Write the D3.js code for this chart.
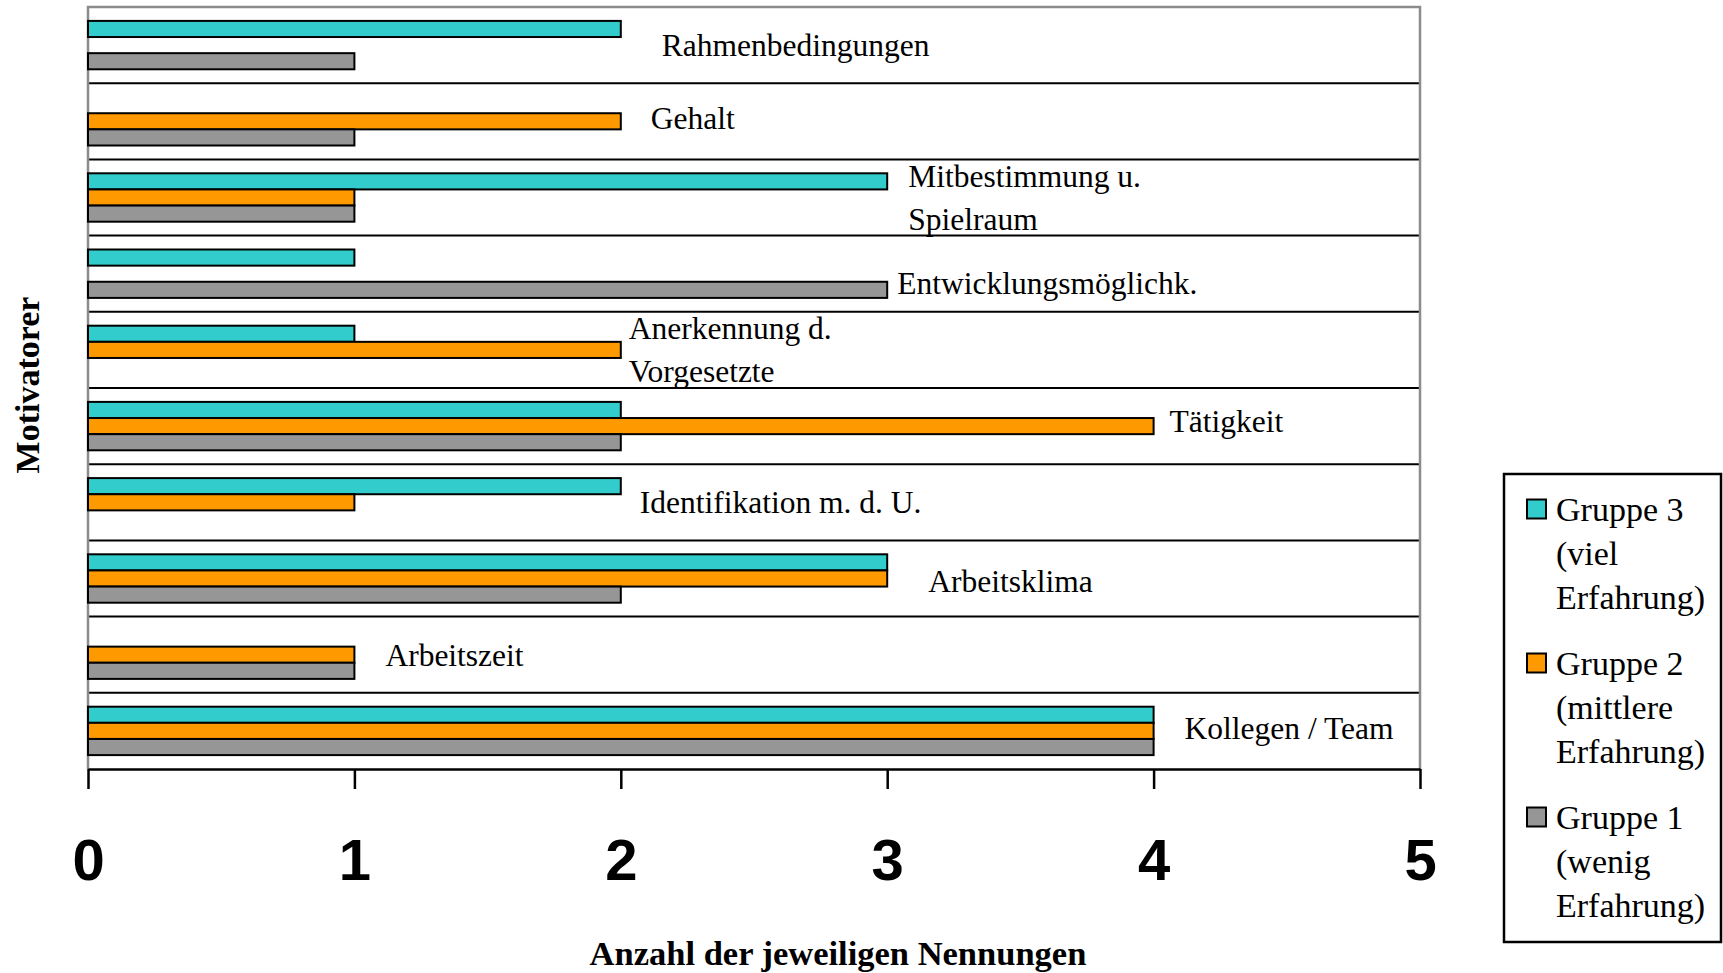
<!DOCTYPE html>
<html>
<head>
<meta charset="utf-8">
<script src="https://cdn.jsdelivr.net/npm/d3@7"></script>
<style>
  body { margin: 0; background: #fff; }
  svg { display: block; }
  .lbl { font-family: "Liberation Serif", "Times New Roman", serif; }
  .bold { font-family: "Liberation Serif", "Times New Roman", serif; font-weight: bold; }
  .tick-label { font-family: "Liberation Sans", Arial, sans-serif; font-weight: bold; }
</style>
</head>
<body>
<div id="chart"></div>
<script>
// categories, top to bottom
const categories = [
  "Rahmenbedingungen",
  "Gehalt",
  "Mitbestimmung u.|Spielraum",
  "Entwicklungsmöglichk.",
  "Anerkennung d.|Vorgesetzte",
  "Tätigkeit",
  "Identifikation m. d. U.",
  "Arbeitsklima",
  "Arbeitszeit",
  "Kollegen / Team"
];

const gruppe3 = [2, 0, 3, 1, 1, 2, 2, 3, 0, 4];
const gruppe2 = [0, 2, 1, 0, 2, 4, 1, 3, 1, 4];
const gruppe1 = [1, 1, 1, 3, 0, 2, 0, 2, 1, 4];

const seriesNames = [
  "Gruppe 3|(viel|Erfahrung)",
  "Gruppe 2|(mittlere|Erfahrung)",
  "Gruppe 1|(wenig|Erfahrung)"
];

const xTicks = [0, 1, 2, 3, 4, 5];
const xTitle = "Anzahl der jeweiligen Nennungen";
const yTitle = "Motivatorer";

// layout
const width = 1723, height = 973;
const plot = {left: 88, right: 1420, top: 7, bottom: 769};
const colors = ["#33cccc", "#ff9900", "#969696"];
// nudges of the category labels, px
const labelDx = [41, 30, 21, 10, 8, 16, 19, 41, 31, 31];
const labelDy = [0, -3, 0, 9, 0, -5, 0, 2, 0, -3];

const series = [gruppe3, gruppe2, gruppe1];

const svg = d3.select("#chart").append("svg")
  .attr("width", width)
  .attr("height", height);

const x = d3.scaleLinear()
  .domain([0, 5])
  .range([plot.left, plot.right]);

const y = d3.scaleBand()
  .domain(categories)
  .range([plot.top, plot.bottom]);

const inner = d3.scaleBand()
  .domain(d3.range(series.length))
  .range([13.9, y.bandwidth() - 13.9]);

// row separators
svg.append("g")
  .selectAll("line")
  .data(categories.slice(1))
  .enter().append("line")
  .attr("x1", plot.left)
  .attr("x2", plot.right)
  .attr("y1", d => y(d))
  .attr("y2", d => y(d))
  .attr("stroke", "#000")
  .attr("stroke-width", 2);

// plot frame (top, left, right in gray)
svg.append("path")
  .attr("d", `M${plot.left},${plot.bottom}V${plot.top}H${plot.right}V${plot.bottom}`)
  .attr("fill", "none")
  .attr("stroke", "#8c8c8c")
  .attr("stroke-width", 2.5);

// bars
series.forEach((values, s) => {
  svg.append("g")
    .selectAll("rect")
    .data(values.map((v, i) => ({cat: categories[i], value: v})).filter(d => d.value > 0))
    .enter().append("rect")
    .attr("x", x(0))
    .attr("y", d => y(d.cat) + inner(s))
    .attr("width", d => x(d.value) - x(0))
    .attr("height", inner.bandwidth())
    .attr("fill", colors[s])
    .attr("stroke", "#000")
    .attr("stroke-width", 2);
});

// category labels next to the longest bar
const lineGap = 43;
categories.forEach((cat, i) => {
  const maxVal = d3.max(series, v => v[i]);
  const lines = cat.split("|");
  const cy = y(cat) + y.bandwidth() / 2 + labelDy[i];
  const t = svg.append("text")
    .attr("class", "lbl")
    .attr("font-size", 31.5)
    .attr("x", x(maxVal) + labelDx[i])
    .attr("y", cy - (lines.length - 1) * lineGap / 2)
    .attr("dominant-baseline", "central");
  lines.forEach((line, k) => {
    t.append("tspan")
      .attr("x", x(maxVal) + labelDx[i])
      .attr("dy", k === 0 ? 0 : lineGap)
      .text(line);
  });
});

// x axis
const xAxis = svg.append("g")
  .attr("transform", `translate(0,${plot.bottom})`)
  .call(d3.axisBottom(x).tickValues(xTicks).tickFormat(d3.format("d"))
    .tickSize(20).tickSizeOuter(0).tickPadding(50));

xAxis.select(".domain").attr("stroke", "#000").attr("stroke-width", 2.5);
xAxis.selectAll(".tick line").attr("stroke", "#000").attr("stroke-width", 2.5);
xAxis.selectAll(".tick text")
  .attr("class", "tick-label")
  .attr("font-size", 58)
  .attr("fill", "#000");

svg.append("text")
  .attr("class", "bold")
  .attr("font-size", 34.5)
  .attr("x", 838)
  .attr("y", 953)
  .attr("text-anchor", "middle")
  .attr("dominant-baseline", "central")
  .text(xTitle);

svg.append("text")
  .attr("class", "bold")
  .attr("font-size", 34)
  .attr("transform", "translate(27,385) rotate(-90)")
  .attr("text-anchor", "middle")
  .attr("dominant-baseline", "central")
  .text(yTitle);

// legend
const legend = svg.append("g");
legend.append("rect")
  .attr("x", 1504)
  .attr("y", 474)
  .attr("width", 217)
  .attr("height", 468)
  .attr("fill", "#fff")
  .attr("stroke", "#000")
  .attr("stroke-width", 2.5);

const legendTop = 509, legendStep = 154, legendLine = 44;
seriesNames.forEach((name, s) => {
  const cy = legendTop + s * legendStep;
  legend.append("rect")
    .attr("x", 1527)
    .attr("y", cy - 9.5)
    .attr("width", 19)
    .attr("height", 19)
    .attr("fill", colors[s])
    .attr("stroke", "#000")
    .attr("stroke-width", 2);
  const t = legend.append("text")
    .attr("class", "lbl")
    .attr("font-size", 34)
    .attr("y", cy)
    .attr("dominant-baseline", "central");
  name.split("|").forEach((line, k) => {
    t.append("tspan")
      .attr("x", 1556)
      .attr("dy", k === 0 ? 0 : legendLine)
      .text(line);
  });
});
</script>
</body>
</html>
